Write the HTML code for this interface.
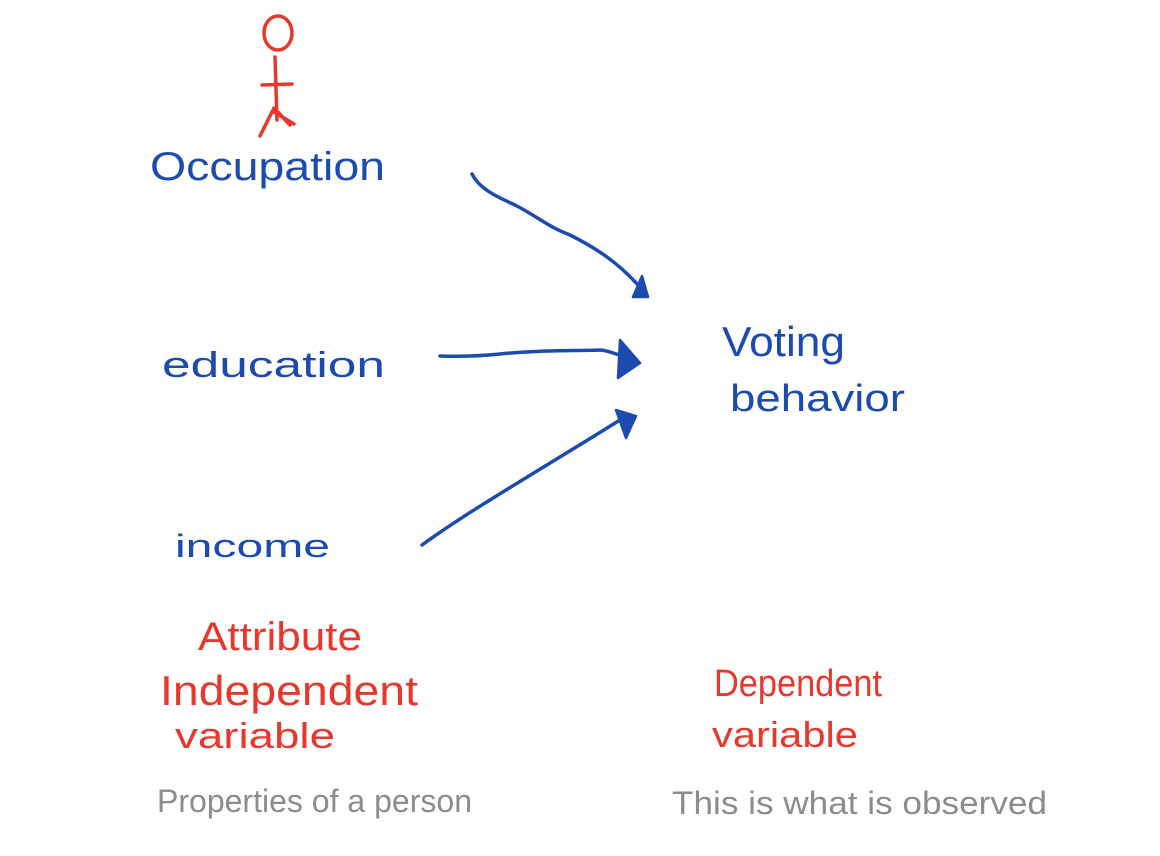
<!DOCTYPE html>
<html><head><meta charset="utf-8"><style>
html,body{margin:0;padding:0;background:#fff;width:1160px;height:856px;overflow:hidden}
svg{display:block}
text{font-family:"Liberation Sans",sans-serif}
</style></head><body>
<svg width="1160" height="856" viewBox="0 0 1160 856" xmlns="http://www.w3.org/2000/svg">
<g fill="none" stroke="#e8382d" stroke-width="3.5" stroke-linecap="round">
<ellipse cx="278" cy="33" rx="14" ry="17"/>
<path d="M275 57 L277 120"/>
<path d="M262 85 L292 84"/>
<path d="M274 108 L260 136 M274 112 L294 124 M276 110 L290 125"/>
</g>
<g fill="none" stroke="#1c4bb0" stroke-width="3.5" stroke-linecap="round">
<path d="M472 174 C480 190 500 198 515 205 C540 218 545 225 570 235 C600 250 620 265 638 285"/>
<path d="M440 356 C470 357 490 355 500 354 C540 350 570 351 600 350 C612 351 615 355 622 355"/>
<path d="M422 545 C470 510 540 470 620 420"/>
</g>
<g fill="#1c4bb0" stroke="#1c4bb0" stroke-width="2.5" stroke-linejoin="round">
<polygon points="642,276 648,297 633,297"/>
<polygon points="620,340 640,363 618,378"/>
<polygon points="616,410 636,416 626,438"/>
</g>
<g fill="#1c4bb0">
<text x="150" y="180" font-size="40" textLength="235" lengthAdjust="spacingAndGlyphs">Occupation</text>
<text x="162" y="377" font-size="36" textLength="223" lengthAdjust="spacingAndGlyphs">education</text>
<text x="175" y="557" font-size="32" textLength="155" lengthAdjust="spacingAndGlyphs">income</text>
<text x="722" y="356" font-size="42" textLength="123" lengthAdjust="spacingAndGlyphs">Voting</text>
<text x="730" y="411" font-size="38" textLength="175" lengthAdjust="spacingAndGlyphs">behavior</text>
</g>
<g fill="#e8382d">
<text x="198" y="650" font-size="40" textLength="164" lengthAdjust="spacingAndGlyphs">Attribute</text>
<text x="160" y="705" font-size="42" textLength="258" lengthAdjust="spacingAndGlyphs">Independent</text>
<text x="175" y="748" font-size="36" textLength="160" lengthAdjust="spacingAndGlyphs">variable</text>
<text x="714" y="696" font-size="38" textLength="168" lengthAdjust="spacingAndGlyphs">Dependent</text>
<text x="712" y="747" font-size="36" textLength="146" lengthAdjust="spacingAndGlyphs">variable</text>
</g>
<g fill="#8c8c8c">
<text x="157" y="812" font-size="32" textLength="315" lengthAdjust="spacingAndGlyphs">Properties of a person</text>
<text x="672" y="814" font-size="32" textLength="375" lengthAdjust="spacingAndGlyphs">This is what is observed</text>
</g>
</svg>
</body></html>
